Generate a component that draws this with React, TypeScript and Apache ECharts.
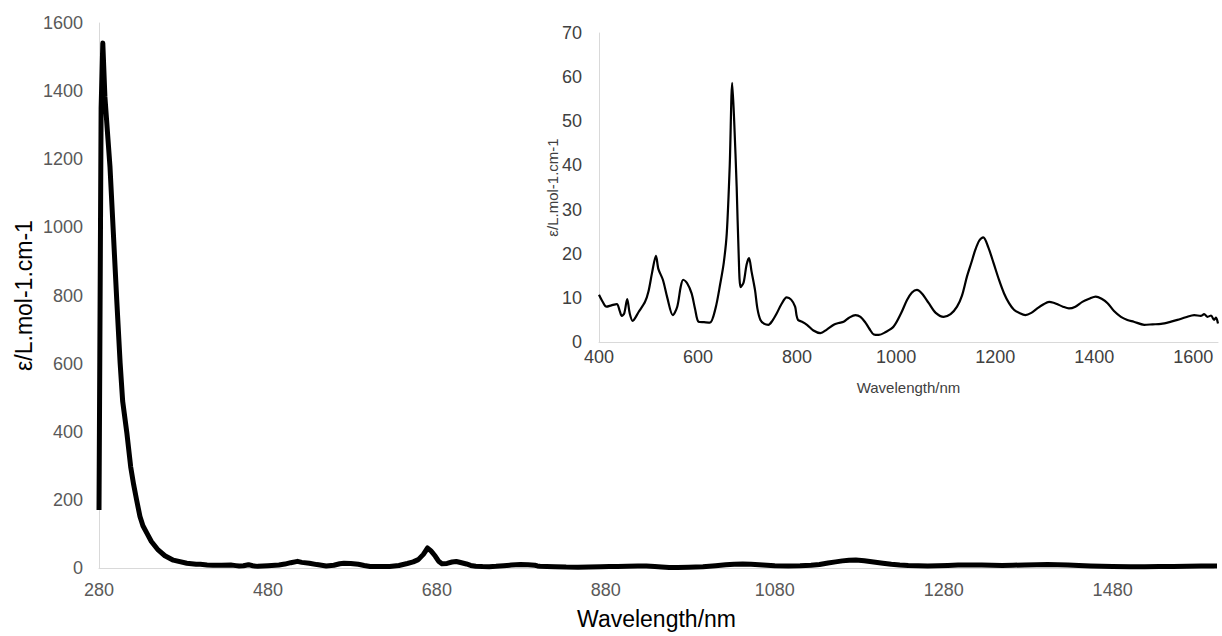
import React, { useEffect, useRef } from "react";
import * as echarts from "echarts";

// Near-UV part of the spectrum (nm, ε) — the strong band at ~285 nm
const uvWavelength = [280, 282.5, 284.5, 287, 290, 293, 297, 301, 305, 308, 313, 317.5, 321, 324.5, 328.5, 332, 336.5, 342, 350, 358, 368, 384, 395];
const uvEpsilon = [170, 1350, 1541, 1383, 1280, 1178, 983, 787, 602, 490, 396, 297, 245, 200, 151, 124, 103, 78, 53, 36, 23, 14, 11];

// Visible / NIR part of the spectrum (nm, ε), shown on its own in the inset
const nirWavelength = [
  400, 408, 415, 425, 436, 442, 446, 451, 457, 462, 468, 480, 493, 500, 507, 515, 520, 529, 538, 549,
  558, 565, 570, 578, 587, 594, 601, 612, 624, 635, 645, 652, 658, 664, 669, 673, 678, 682, 686, 692,
  698, 703, 708, 715, 720, 726, 734, 742, 750, 759, 768, 779, 788, 796, 799, 802, 810, 820, 833, 847,
  860, 874, 884, 894, 905, 918, 928, 938, 946, 955, 965, 978, 995, 1010, 1022, 1032, 1042, 1052, 1066, 1080,
  1096, 1110, 1123, 1133, 1143, 1152, 1160, 1168, 1176, 1186, 1197, 1208, 1218, 1228, 1238, 1250, 1261, 1273, 1285, 1297,
  1309, 1318, 1325, 1337, 1349, 1362, 1376, 1390, 1403, 1415, 1427, 1440, 1454, 1467, 1480, 1501, 1518, 1535, 1552, 1568,
  1585, 1602, 1615, 1622, 1629, 1636, 1642, 1646, 1650,
];
const nirEpsilon = [
  10.7, 9.0, 8.0, 8.3, 8.6, 7.0, 5.9, 6.5, 9.7, 6.5, 4.8, 6.8, 9.1, 11.5, 15.6, 19.5, 16.5, 14.1, 10.0, 6.1,
  8.0, 12.5, 14.1, 13.3, 11.0, 7.5, 4.6, 4.5, 4.4, 7.5, 13.3, 18.0, 24.6, 40, 58.7, 50, 35.2, 20, 12.4, 13.5,
  17.5, 19.0, 16.0, 11.8, 7.5, 5.0, 4.1, 3.9, 4.8, 6.5, 8.5, 10.1, 9.6, 8.0, 6.0, 5.0, 4.6, 3.9, 2.6, 2.0,
  2.8, 3.9, 4.3, 4.6, 5.5, 6.1, 5.7, 4.4, 3.0, 1.7, 1.6, 2.2, 3.5, 6.5, 9.5, 11.2, 11.8, 11.0, 8.8, 6.6,
  5.7, 6.3, 8.0, 10.5, 14.8, 18.0, 20.9, 23.0, 23.7, 21.5, 17.8, 14.0, 11.0, 8.8, 7.3, 6.5, 6.1, 6.6, 7.6, 8.5,
  9.1, 8.9, 8.6, 8.0, 7.6, 8.0, 9.1, 9.8, 10.3, 9.8, 8.8, 7.0, 5.7, 5.0, 4.6, 3.9, 4.0, 4.1, 4.5, 5.0,
  5.6, 6.1, 5.9, 6.3, 5.7, 6.0, 5.0, 5.5, 4.2,
];

const axisTitle = "Wavelength/nm";
const valueTitle = "ε/L.mol-1.cm-1";

const FONT = "'Liberation Sans', Arial, sans-serif";

// plain numbers, no thousands separator
const plain = (v: number) => String(v);

export default function App() {
  const ref = useRef<HTMLDivElement>(null);

  useEffect(() => {
    if (!ref.current) return;
    const chart = echarts.init(ref.current, undefined, { renderer: "svg" });

    const uvPairs = uvWavelength.map((w, i) => [w, uvEpsilon[i]]);
    const nirPairs = nirWavelength.map((w, i) => [w, nirEpsilon[i]]);
    const fullPairs = uvPairs.concat(nirPairs);

    const axisLine = { show: true, lineStyle: { color: "#d9d9d9", width: 1 } };

    chart.setOption({
      animation: false,
      backgroundColor: "#ffffff",
      grid: [
        { left: 99, right: 8, top: 23, bottom: 68 },
        { left: 599, right: 4, top: 33, bottom: 294 },
      ],
      xAxis: [
        {
          type: "value",
          gridIndex: 0,
          min: 280,
          max: 1600,
          interval: 200,
          name: axisTitle,
          nameLocation: "middle",
          nameGap: 39,
          nameMoveOverlap: false,
          nameTextStyle: { fontFamily: FONT, fontSize: 23, color: "#000000" },
          axisLine,
          axisTick: { show: false },
          splitLine: { show: false },
          axisLabel: { fontFamily: FONT, fontSize: 18, color: "#595959", margin: 13, showMaxLabel: false, formatter: plain },
        },
        {
          type: "value",
          gridIndex: 1,
          min: 400,
          max: 1650,
          interval: 200,
          name: axisTitle,
          nameLocation: "middle",
          nameGap: 38,
          nameMoveOverlap: false,
          nameTextStyle: { fontFamily: FONT, fontSize: 15, color: "#404040" },
          axisLine,
          axisTick: { show: false },
          splitLine: { show: false },
          axisLabel: { fontFamily: FONT, fontSize: 18, color: "#404040", margin: 6, showMaxLabel: false, formatter: plain },
        },
      ],
      yAxis: [
        {
          type: "value",
          gridIndex: 0,
          min: 0,
          max: 1600,
          interval: 200,
          name: valueTitle,
          nameLocation: "middle",
          nameGap: 64,
          nameMoveOverlap: false,
          nameTextStyle: { fontFamily: FONT, fontSize: 23, color: "#000000" },
          axisLine,
          axisTick: { show: false },
          splitLine: { show: false },
          axisLabel: { fontFamily: FONT, fontSize: 18, color: "#595959", margin: 16, formatter: plain },
        },
        {
          type: "value",
          gridIndex: 1,
          min: 0,
          max: 70,
          interval: 10,
          name: valueTitle,
          nameLocation: "middle",
          nameGap: 39,
          nameMoveOverlap: false,
          nameTextStyle: { fontFamily: FONT, fontSize: 15, color: "#404040" },
          axisLine,
          axisTick: { show: false },
          splitLine: { show: false },
          axisLabel: { fontFamily: FONT, fontSize: 18, color: "#404040", margin: 17, formatter: plain },
        },
      ],
      series: [
        {
          type: "line",
          xAxisIndex: 0,
          yAxisIndex: 0,
          data: fullPairs,
          showSymbol: false,
          smooth: false,
          lineStyle: { color: "#000000", width: 5, join: "round", cap: "butt" },
        },
        {
          type: "line",
          xAxisIndex: 1,
          yAxisIndex: 1,
          data: nirPairs,
          showSymbol: false,
          smooth: 0.3,
          lineStyle: { color: "#000000", width: 2.2, join: "round" },
        },
      ],
    });

    return () => chart.dispose();
  }, []);

  return (
    <div
      ref={ref}
      style={{ position: "fixed", left: 0, top: 0, width: 1222, height: 636 }}
    />
  );
}
